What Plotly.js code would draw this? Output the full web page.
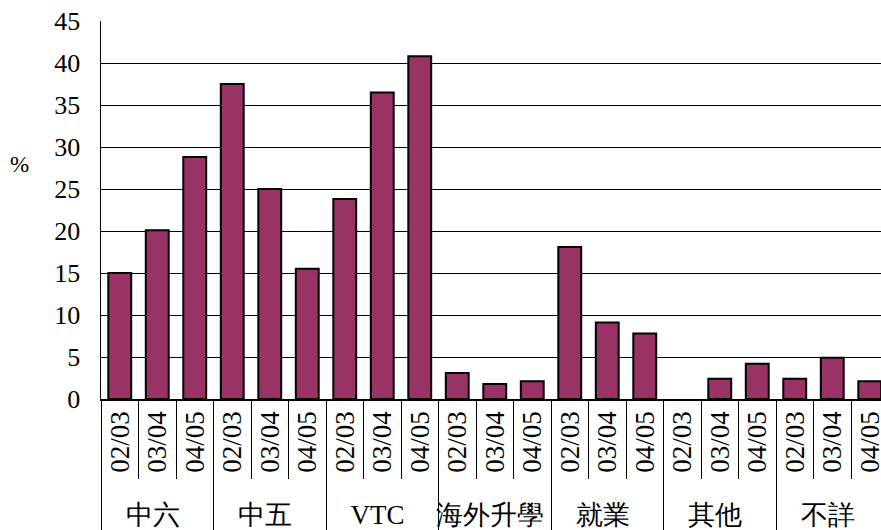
<!DOCTYPE html>
<html>
<head>
<meta charset="utf-8">
<script src="https://cdn.plot.ly/plotly-3.0.1.min.js"></script>
<style>html,body{margin:0;padding:0;background:#fff;}#chart{width:881px;height:530px;}</style>
</head>
<body>
<div id="chart"></div>
<script>
const groups = ["中六","中五","VTC","海外升學","就業","其他","不詳"];
const years = ["02/03","03/04","04/05"];
const values = [
  15.0, 20.1, 28.8,
  37.5, 25.0, 15.5,
  23.8, 36.5, 40.8,
  3.1, 1.8, 2.1,
  18.1, 9.1, 7.8,
  0, 2.4, 4.2,
  2.4, 4.9, 2.1
];
const yTicks = [0,5,10,15,20,25,30,35,40,45];

const outer = [], inner = [];
groups.forEach(g => years.forEach(y => { outer.push(g); inner.push(y); }));

const serif = "Liberation Serif";

const trace = {
  type: "bar",
  x: [outer, inner],
  y: values,
  marker: {color: "#993366", line: {color: "#000000", width: values.map(v => v === 0 ? 0 : 2)}},
  hoverinfo: "skip"
};

const layout = {
  width: 881, height: 530,
  margin: {l: 101, r: 0, t: 21, b: 131},
  paper_bgcolor: "#ffffff", plot_bgcolor: "#ffffff",
  bargap: 0.39,
  showlegend: false,
  font: {family: serif, size: 25, color: "#000"},
  xaxis: {
    type: "multicategory",
    range: [-0.5, 20.3],
    automargin: false,
    showline: true, linecolor: "#000", linewidth: 1.5,
    tickson: "boundaries",
    ticks: "outside", ticklen: 78, tickcolor: "#000", tickwidth: 1,
    tickangle: -90,
    showdividers: true, dividercolor: "#000", dividerwidth: 1,
    tickfont: {family: serif, size: 27, color: "#000"},
    showgrid: false
  },
  yaxis: {
    range: [0, 45],
    tickvals: yTicks,
    ticktext: yTicks.map(String),
    showline: true, linecolor: "#000", linewidth: 1.5,
    ticks: "inside", ticklen: 7, tickcolor: "#000",
    showgrid: true, gridcolor: "#000", gridwidth: 1,
    zeroline: false,
    ticklabelstandoff: 14,
    tickfont: {family: serif, size: 26, color: "#000"}
  },
  annotations: [{
    text: "%", xref: "paper", yref: "paper",
    x: -0.105, y: 0.62, xanchor: "center", yanchor: "middle",
    showarrow: false, font: {family: serif, size: 23, color: "#000"}
  }]
};

Plotly.newPlot("chart", [trace], layout, {staticPlot: true, displayModeBar: false});
</script>
</body>
</html>
